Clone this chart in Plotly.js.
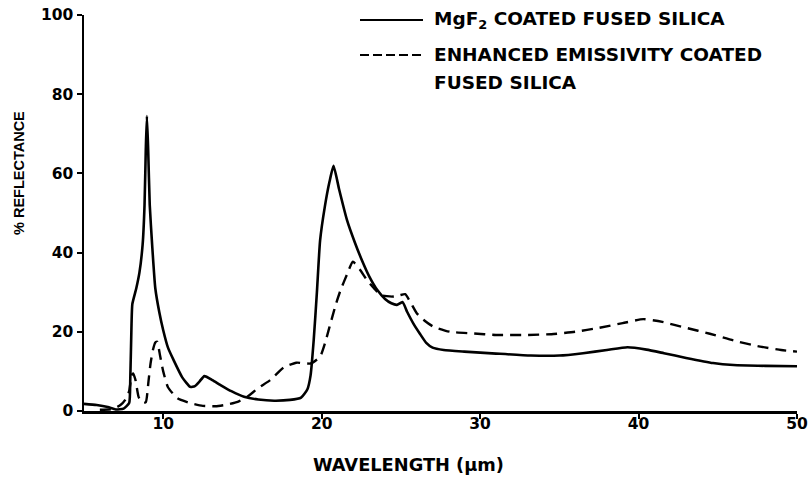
<!DOCTYPE html>
<html>
<head>
<meta charset="utf-8">
<script src="https://cdn.plot.ly/plotly-3.0.1.min.js"></script>
<style>html,body{margin:0;padding:0;background:#fff;}#chart{width:812px;height:480px;}</style>
</head>
<body>
<div id="chart"></div>
<script>
// MgF2 coated fused silica (solid)
const mgf2Wavelength = [5.0, 5.8, 6.5, 7.0, 7.5, 7.85, 7.92, 8.0, 8.05, 8.3, 8.5, 8.7, 8.82, 8.9, 8.97, 9.05, 9.15, 9.3, 9.5, 9.75, 10.0, 10.3, 10.65, 11.2, 11.7, 12.0, 12.3, 12.6, 13.1, 13.6, 14.3, 15.1, 16.0, 17.0, 18.0, 18.7, 19.1, 19.3, 19.5, 19.7, 19.9, 20.2, 20.5, 20.75, 21.1, 21.6, 22.1, 22.6, 23.0, 23.5, 24.0, 24.4, 24.75, 25.1, 25.4, 25.8, 26.2, 26.6, 27.0, 27.7, 29.0, 31.0, 33.2, 35.0, 36.5, 38.0, 39.3, 40.5, 41.6, 43.0, 44.7, 46.0, 48.0, 50.0];
const mgf2Reflectance = [1.8, 1.5, 1.0, 0.4, 0.6, 2.0, 8.0, 22, 27, 31, 35, 42, 52, 66, 74.5, 66, 52, 42, 31, 25, 20.4, 16, 12.9, 8.5, 6.1, 6.3, 7.5, 8.8, 7.8, 6.6, 5.0, 3.6, 2.9, 2.6, 2.8, 3.4, 5.5, 9, 18, 30, 43, 51.6, 58, 61.9, 56, 48.2, 42.5, 37.5, 34, 30.6, 28.3, 27.2, 26.8, 27.5, 25, 22, 19.5, 17.2, 16.0, 15.4, 15.0, 14.5, 14.0, 14.0, 14.6, 15.4, 16.1, 15.5, 14.6, 13.4, 12.1, 11.6, 11.4, 11.3];

// Enhanced emissivity coated fused silica (dashed)
const eeWavelength = [6.0, 6.8, 7.3, 7.6, 7.85, 8.0, 8.1, 8.25, 8.45, 8.7, 8.9, 9.07, 9.2, 9.35, 9.5, 9.62, 9.8, 10.0, 10.3, 10.9, 11.7, 12.5, 13.3, 14.0, 14.7, 15.3, 16.0, 16.75, 17.6, 18.4, 19.3, 19.9, 20.2, 20.5, 20.9, 21.2, 21.6, 21.97, 22.4, 22.85, 23.3, 23.7, 24.1, 24.5, 24.9, 25.27, 25.6, 26.0, 26.5, 27.05, 28.1, 29.5, 31.0, 33.0, 34.5, 36.0, 37.5, 39.0, 40.3, 41.5, 43.0, 44.5, 46.0, 47.5, 49.0, 50.0];
const eeReflectance = [0.3, 0.5, 1.5, 2.8, 5.0, 9.0, 9.5, 7.8, 3.5, 2.0, 2.2, 7.5, 12, 15.4, 17.3, 17.5, 14, 10, 6, 3.2, 2.0, 1.3, 1.2, 1.6, 2.3, 3.6, 5.8, 7.8, 11.0, 12.2, 12.0, 13.7, 17, 21.3, 27, 30.6, 34.5, 37.7, 35.8, 33.1, 31, 29.3, 29.0, 28.9, 29.2, 29.5, 27.5, 24.7, 22.8, 21.3, 20.0, 19.6, 19.2, 19.2, 19.4, 20.0, 21.0, 22.2, 23.2, 22.5, 21.0, 19.5, 17.8, 16.4, 15.4, 15.0];

const xTickVals = [10, 20, 30, 40, 50];
const yTickVals = [0, 20, 40, 60, 80, 100];
const seriesNames = ['MgF<sub>2</sub> COATED FUSED SILICA', 'ENHANCED EMISSIVITY COATED', 'FUSED SILICA'];
const xTitle = 'WAVELENGTH (µm)';
const yTitle = '% REFLECTANCE';

const FAMILY = 'DejaVu Sans, sans-serif';
const tickFont = {family: FAMILY, size: 15.5, color: '#000', weight: 700};
const legendFont = {family: FAMILY, size: 18.5, color: '#000', weight: 700};

const traces = [
  {x: mgf2Wavelength, y: mgf2Reflectance, name: 'MgF2 coated fused silica', type: 'scatter', mode: 'lines',
   line: {color: '#000', width: 2.6, shape: 'spline', smoothing: 0.5}},
  {x: eeWavelength, y: eeReflectance, name: 'Enhanced emissivity coated fused silica', type: 'scatter', mode: 'lines',
   line: {color: '#000', width: 2.4, dash: '11px,7px', shape: 'spline', smoothing: 0.5}}
];

// legend drawn in pixel-like paper coords (plot area: x 84..797, y 15..411)
const px = v => (v - 84) / 713;
const py = v => (411 - v) / 396;

const layout = {
  width: 812, height: 480,
  margin: {l: 84, r: 15, t: 15, b: 69},
  paper_bgcolor: '#fff', plot_bgcolor: '#fff',
  font: tickFont,
  showlegend: false,
  xaxis: {range: [5, 50], tickvals: xTickVals, ticktext: xTickVals.map(String),
          showgrid: false, zeroline: false, showline: true, linecolor: '#000', linewidth: 2.5,
          ticks: 'outside', ticklen: 5, tickwidth: 2, tickcolor: '#000', tickfont: tickFont,
          ticklabelstandoff: -8},
  yaxis: {range: [0, 100], tickvals: yTickVals, ticktext: yTickVals.map(String),
          showgrid: false, zeroline: false, showline: true, linecolor: '#000', linewidth: 2.5,
          ticks: 'outside', ticklen: 5, tickwidth: 2, tickcolor: '#000', tickfont: tickFont},
  shapes: [
    {type: 'line', xref: 'paper', yref: 'paper', x0: px(360), x1: px(423), y0: py(20), y1: py(20),
     line: {color: '#000', width: 2.2}},
    {type: 'line', xref: 'paper', yref: 'paper', x0: px(360), x1: px(423), y0: py(55), y1: py(55),
     line: {color: '#000', width: 2.2, dash: '9px,4px'}}
  ],
  annotations: [
    {text: seriesNames[0], xref: 'paper', yref: 'paper', x: px(432), y: py(20), xanchor: 'left', yanchor: 'middle',
     showarrow: false, font: legendFont},
    {text: seriesNames[1], xref: 'paper', yref: 'paper', x: px(432), y: py(55), xanchor: 'left', yanchor: 'middle',
     showarrow: false, font: legendFont},
    {text: seriesNames[2], xref: 'paper', yref: 'paper', x: px(432), y: py(82), xanchor: 'left', yanchor: 'middle',
     showarrow: false, font: legendFont},
    {text: xTitle, xref: 'paper', yref: 'paper', x: px(408), y: py(464), xanchor: 'center', yanchor: 'middle',
     showarrow: false, font: {family: FAMILY, size: 17.8, color: '#000', weight: 700}},
    {text: yTitle, xref: 'paper', yref: 'paper', x: px(19), y: py(173), xanchor: 'center', yanchor: 'middle',
     textangle: -90, showarrow: false, font: {family: 'Liberation Sans, Arial, sans-serif', size: 14.5, color: '#000', weight: 700}}
  ]
};

Plotly.newPlot('chart', traces, layout, {displayModeBar: false, staticPlot: true});
</script>
</body>
</html>
